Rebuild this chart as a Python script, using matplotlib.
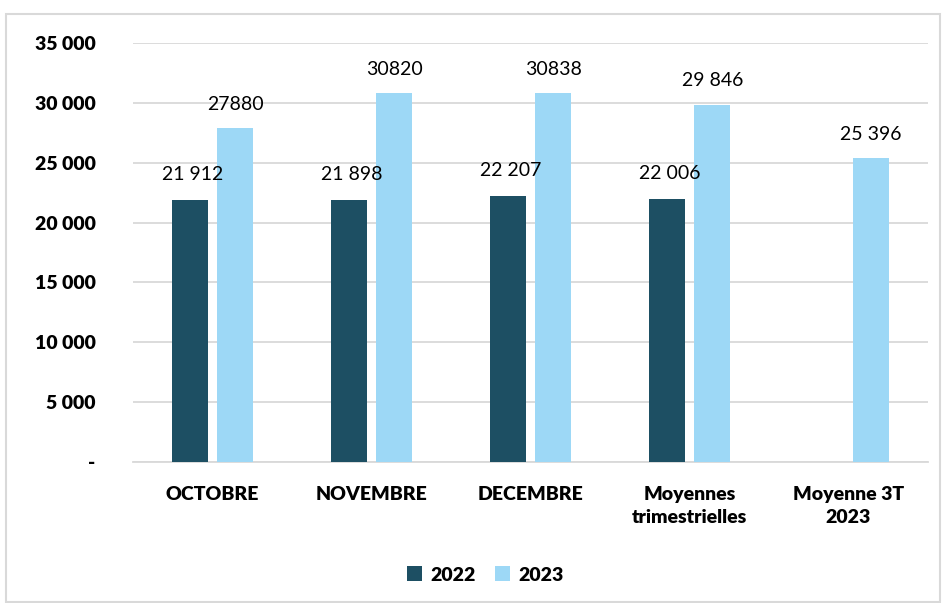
import numpy as np
import matplotlib.pyplot as plt
from matplotlib.patches import Rectangle

categories = ["OCTOBRE", "NOVEMBRE", "DECEMBRE", "Moyennes\ntrimestrielles", "Moyenne 3T\n2023"]
values_2022 = [21912, 21898, 22207, 22006, np.nan]
values_2023 = [27880, 30820, 30838, 29846, 25396]
labels_2022 = ["21 912", "21 898", "22 207", "22 006", ""]
labels_2023 = ["27880", "30820", "30838", "29 846", "25 396"]
yticks = [0, 5000, 10000, 15000, 20000, 25000, 30000, 35000]
ytick_labels = ["-", "5 000", "10 000", "15 000", "20 000", "25 000", "30 000", "35 000"]

plt.rcParams['font.family'] = ['Lato', 'DejaVu Sans']

c22 = "#1D4F63"
c23 = "#9DD8F6"
grid_c = "#D9D9D9"

fig = plt.figure(figsize=(9.45, 6.03), dpi=100)
ax = fig.add_axes([133/945, 1 - 462/603, 795/945, 419/603])

x = np.arange(len(categories))
w = 0.226
off = 0.143
ax.bar(x - off, values_2022, w, color=c22, label="2022", zorder=3)
ax.bar(x + off, values_2023, w, color=c23, label="2023", zorder=3)

for i in range(len(categories)):
    if labels_2022[i]:
        ax.annotate(labels_2022[i], (x[i] - off, values_2022[i]), xytext=(2, 12),
                    textcoords="offset points", ha="center", va="bottom", fontsize=14)
    ax.annotate(labels_2023[i], (x[i] + off, values_2023[i]), xytext=(0, 11),
                textcoords="offset points", ha="center", va="bottom", fontsize=14)

ax.set_xlim(-0.5, len(categories) - 0.5)
ax.set_ylim(0, 35000)
ax.set_yticks(yticks)
ax.set_yticklabels(ytick_labels, fontsize=14, fontweight="heavy")
ax.set_xticks(x)
ax.set_xticklabels(categories, fontsize=14, fontweight="heavy", linespacing=1.45)
ax.tick_params(axis="y", length=0, pad=27)
ax.tick_params(axis="x", length=0, pad=17)
ax.yaxis.grid(True, color=grid_c, linewidth=1.3, zorder=0)
for s in ["left", "right", "top"]:
    ax.spines[s].set_visible(False)
ax.spines["bottom"].set_color(grid_c)
ax.spines["bottom"].set_linewidth(1.3)

leg = fig.legend(loc="center", bbox_to_anchor=(485/945, 1 - 575/603), ncol=2, frameon=False,
                 prop={"size": 14, "weight": "heavy"}, handlelength=0.8, handleheight=0.8,
                 handletextpad=0.4, columnspacing=1.0)

fig.patches.append(Rectangle((6/945, 0.002), 934/945, 1 - 14/603 - 0.002, transform=fig.transFigure,
                             fill=False, edgecolor=grid_c, linewidth=1.5))

fig.savefig("out.png", dpi=100)
